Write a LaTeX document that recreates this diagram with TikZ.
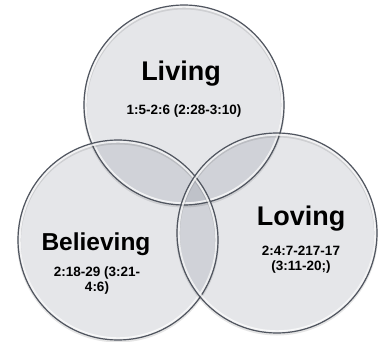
\documentclass[tikz,border=0pt]{standalone}
\usepackage{fontspec}
\setmainfont{Liberation Sans}
\definecolor{disc}{RGB}{118,124,140}
\definecolor{rim}{RGB}{80,85,95}
\begin{document}
\begin{tikzpicture}[x=1pt,y=1pt,line width=.8pt,
 bubble/.style={fill=disc,fill opacity=.19},
 title/.style={font=\fontsize{27}{30}\selectfont\bfseries,anchor=base,inner sep=0pt},
 refs/.style={font=\fontsize{13.5}{15}\selectfont\bfseries,align=center,inner sep=0pt}]
 \useasboundingbox (0,0) rectangle (381,341);
 \coordinate (live) at (184,236);
 \coordinate (believe) at (118,101);
 \coordinate (love) at (277,108);
 % discs first, then all rims on top
 \foreach \c in {live,believe,love}
  \fill[bubble] (\c) circle[radius=100];
 \foreach \c in {live,believe,love}{
  \draw[black,opacity=.1,line width=4pt] ([yshift=-1.5]\c) circle[radius=99];
  \draw[white,opacity=.75,line width=2pt] (\c) circle[radius=98.3];
  \draw[rim,line width=1.2pt] (\c) circle[radius=100];
 }
 \node[title] (livename) at (181,261) {Living};
 \node[refs,anchor=base] (liveref) at (184,226) {1:5-2:6 (2:28-3:10)};
 \node[title,font=\fontsize{24.5}{28}\selectfont\bfseries] (believename) at (96,91) {Believing};
 \node[refs] (believeref) at (97,60) {2:18-29 (3:21-\\4:6)};
 \node[title] (lovename) at (301,116) {Loving};
 \node[refs] (loveref) at (301,81) {2:4:7-217-17\\(3:11-20;)};
\end{tikzpicture}
\end{document}
